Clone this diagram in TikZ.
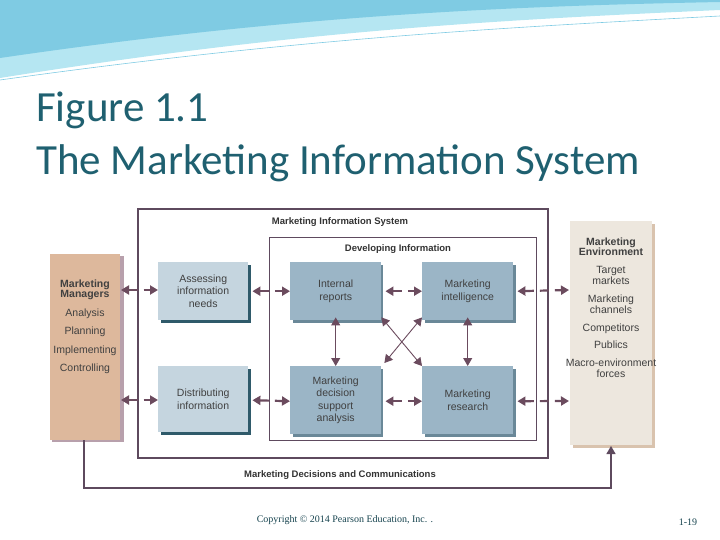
\documentclass[tikz,border=0pt]{standalone}
\usepackage{fontspec}
\setmainfont{Liberation Sans}
\newfontfamily\titlefont{Carlito}
\newfontfamily\serfont{Liberation Serif}
\usetikzlibrary{arrows.meta}
\definecolor{tealt}{HTML}{1F6070}
\definecolor{frame}{HTML}{5E4A5E}
\definecolor{arr}{HTML}{6B4B5E}
\definecolor{light}{HTML}{C5D5DF}
\definecolor{lightsh}{HTML}{2F5A6A}
\definecolor{mid}{HTML}{9BB5C6}
\definecolor{midsh}{HTML}{6A8898}
\definecolor{mgr}{HTML}{DDB89C}
\definecolor{mgrsh}{HTML}{B8A0AC}
\definecolor{env}{HTML}{EDE7DE}
\definecolor{envsh}{HTML}{D9C3AE}
\definecolor{wave1}{HTML}{B5E6F2}
\definecolor{wave2}{HTML}{7FCBE3}
\tikzset{
 x=1pt,y=-1pt,
 tip/.tip={Triangle[length=8pt,width=9pt]},
 lbox/.style={fill=light,minimum width=90pt,align=center,font=\fontsize{10.5}{12.5}\selectfont,text=black!75,inner sep=0pt},
 mbox/.style={fill=mid,minimum width=91pt,align=center,font=\fontsize{10.5}{12.5}\selectfont,text=black!75,inner sep=0pt},
 dash2/.style={draw=arr,line width=2.2pt,dash pattern=on 9pt off 6pt,{tip}-{tip}},
 solidarr/.style={draw=arr,line width=0.9pt,{tip}-{tip}},
 lab/.style={font=\bfseries\fontsize{9.5}{11}\selectfont,text=black!80},
 txt/.style={font=\fontsize{10.5}{12.5}\selectfont,text=black!75,align=center},
}
\begin{document}
\begin{tikzpicture}
\useasboundingbox (0,0) rectangle (720,540);
% top wave
\fill[wave1] (0,0) -- (720,0) -- (720,10) .. controls (500,20) and (300,30) .. (0,78) -- cycle;
\fill[wave2] (0,0) -- (720,0) -- (720,2) .. controls (520,6) and (300,14) .. (0,58) -- cycle;
\draw[wave2,line width=0.6pt] (0,80) .. controls (300,38) and (500,28) .. (720,16);
\draw[wave1,line width=0.6pt] (0,72) .. controls (250,32) and (500,20) .. (720,6);
% title
\node[anchor=base west,inner sep=0,text=tealt,font=\titlefont\fontsize{43}{45}\selectfont] (t1) at (36,122) {Figure 1.1};
\node[anchor=base west,inner sep=0,text=tealt,font=\titlefont\fontsize{43}{45}\selectfont] (t2) at (36,175) {The Marketing Information System};
% frames
\draw[frame,line width=1.4pt] (138,209) rectangle (548,458);
\node[lab] (mis) at (340,222) {Marketing Information System};
\draw[frame,line width=0.9pt] (269,237) rectangle (536,440);
\node[lab] (dev) at (398,249) {Developing Information};
% managers
\fill[mgrsh] (52,256) rectangle (124,442);
\fill[mgr] (50,254) rectangle (120,440);
\node[txt,anchor=north] (mgrt) at (85,276) {\textbf{Marketing}\\[-2pt]\textbf{Managers}\\[6pt]Analysis\\[6pt]Planning\\[6pt]Implementing\\[6pt]Controlling};
\coordinate (mgrA) at (121,290); \coordinate (mgrB) at (121,400); \coordinate (mgrBot) at (84,440);
% environment
\fill[envsh] (573,224) rectangle (655,448);
\fill[env] (570,221) rectangle (652,445);
\node[txt,anchor=north] (envt) at (611,234) {\textbf{Marketing}\\[-2pt]\textbf{Environment}\\[5pt]Target\\[-1pt]markets\\[5pt]Marketing\\[-1pt]channels\\[5pt]Competitors\\[5pt]Publics\\[5pt]Macro-environment\\[-1pt]forces};
\coordinate (envA) at (569,290); \coordinate (envB) at (569,400); \coordinate (envBot) at (611,446);
% boxes with shadows
\fill[lightsh] (161,265) rectangle (251,323);
\node[lbox,minimum height=58pt,anchor=north west] (ass) at (158,262) {Assessing\\information\\needs};
\fill[lightsh] (161,369) rectangle (251,435);
\node[lbox,minimum height=66pt,anchor=north west] (dis) at (158,366) {Distributing\\information};
\fill[midsh] (293,265) rectangle (383,323);
\node[mbox,minimum height=58pt,anchor=north west] (int) at (290,262) {Internal\\reports};
\fill[midsh] (425,265) rectangle (516,323);
\node[mbox,minimum height=58pt,anchor=north west] (intel) at (422,262) {Marketing\\intelligence};
\fill[midsh] (293,369) rectangle (383,437);
\node[mbox,minimum height=68pt,anchor=north west] (mdss) at (290,366) {Marketing\\decision\\support\\analysis};
\fill[midsh] (425,369) rectangle (516,437);
\node[mbox,minimum height=68pt,anchor=north west] (res) at (422,366) {Marketing\\research};
% dashed arrows
\draw[dash2] (mgrA) -- (ass.west |- mgrA);
\draw[dash2] (mgrB) -- (dis.west |- mgrB);
\draw[dash2] ([xshift=4pt]ass.east) -- (int.west);
\draw[dash2] ([xshift=4pt,yshift=-1pt]dis.east) -- ([yshift=-1pt]mdss.west);
\draw[dash2] ([xshift=4pt]int.east) -- (intel.west);
\draw[dash2] ([xshift=4pt,yshift=-1pt]mdss.east) -- ([yshift=-1pt]res.west);
\draw[dash2] ([xshift=4pt]intel.east) -- (envA);
\draw[dash2] ([xshift=4pt,yshift=-1pt]res.east) -- ([yshift=-1pt]envB);
% solid arrows
\draw[solidarr] ([yshift=3pt]int.south) -- (mdss.north);
\draw[solidarr] ([yshift=3pt]intel.south) -- (res.north);
\draw[solidarr] ([yshift=3pt]int.south east) -- (res.north west);
\draw[solidarr] ([xshift=3pt,yshift=3pt]mdss.north east) -- ([yshift=3pt]intel.south west);
% bottom loop
\draw[frame,line width=1.2pt,-{tip}] (mgrBot) -- (84,488) -- (611,488) -- (envBot);
\node[lab] (mdc) at (340,475) {Marketing Decisions and Communications};
% footer
\node[font=\serfont\fontsize{10}{11}\selectfont,text=tealt!70!black] (cp) at (345,520) {Copyright © 2014 Pearson Education, Inc. .};
\node[font=\serfont\fontsize{10}{11}\selectfont,text=tealt!70!black] (pg) at (688,522) {1-19};
\end{tikzpicture}
\end{document}
